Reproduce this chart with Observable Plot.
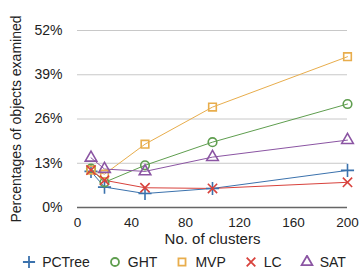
<!DOCTYPE html>
<html>
<head>
<meta charset="utf-8">
<script src="https://cdn.jsdelivr.net/npm/d3@7"></script>
<script src="https://cdn.jsdelivr.net/npm/@observablehq/plot@0.6"></script>
<style>
  body { margin: 0; background: #fff; font-family: "Liberation Sans", Arial, sans-serif; }
  #legend { display: flex; justify-content: center; height: 20px; align-items: center; font-size: 14px; color: #222; margin-left: 8px; }
  #legend .item { display: flex; align-items: center; margin: 0 9px; }
  #legend svg { margin-right: 6px; }
</style>
</head>
<body>
<div id="chart"></div>
<div id="legend"></div>
<script>
const clusters = [10, 20, 50, 100, 200];
const seriesNames = ["PCTree", "GHT", "MVP", "LC", "SAT"];
const pctree = [10.6, 6.0, 4.1, 5.6, 10.9];
const ght    = [11.4, 7.4, 12.4, 19.2, 30.4];
const mvp    = [11.0, 9.8, 18.6, 29.5, 44.3];
const lc     = [11.0, 8.0, 5.8, 5.6, 7.4];
const sat    = [14.6, 11.3, 10.6, 14.8, 19.8];
const yTicks = [0, 13, 26, 39, 52];
const xTicks = [0, 40, 80, 120, 160, 200];

const colors = ["#3b72ad", "#5f9e4f", "#e8ad4c", "#d8423c", "#8b55a3"];
const symbols = ["plus", "circle", "square", "times", "triangle"];
const values = [pctree, ght, mvp, lc, sat];

const data = [];
seriesNames.forEach((s, i) => clusters.forEach((c, j) => data.push({series: s, x: c, y: values[i][j]})));

const font = "Liberation Sans, Arial, sans-serif";
const plot = Plot.plot({
  width: 360,
  height: 252,
  marginLeft: 77,
  marginRight: 13,
  marginTop: 30,
  marginBottom: 45,
  style: {fontFamily: font, fontSize: "13px", color: "#222", background: "#fff"},
  x: {domain: [0, 200], ticks: xTicks, tickSize: 0, tickPadding: 10, label: null},
  y: {domain: [0, 52], ticks: yTicks, tickSize: 0, tickPadding: 15, tickFormat: d => d + "%", label: null},
  color: {domain: seriesNames, range: colors},
  symbol: {domain: seriesNames, range: symbols},
  marks: [
    Plot.gridY(yTicks.filter(d => d > 0), {stroke: "#c8c8c8", strokeOpacity: 1, strokeWidth: 1}),
    Plot.ruleY([0], {stroke: "#666", strokeWidth: 1.5}),
    Plot.axisX({ticks: xTicks, tickSize: 0, tickPadding: 10, fontSize: 13.5}),
    Plot.axisY({ticks: yTicks, tickSize: 0, tickPadding: 15, tickFormat: d => d + "%", fontSize: 14}),
    Plot.line(data, {x: "x", y: "y", z: "series", stroke: "series", strokeWidth: 1}),
    Plot.dot(data, {x: "x", y: "y", stroke: "series", symbol: "series", r: 4.3, strokeWidth: 1.6, fill: "none"}),
    Plot.text(["Percentages of objects examined"], {frameAnchor: "left", textAnchor: "middle", rotate: -90, dx: -61, fontSize: 14, fill: "#222"}),
    Plot.text(["No. of clusters"], {frameAnchor: "bottom", dy: 36, fontSize: 15, fill: "#222"})
  ]
});
document.getElementById("chart").appendChild(plot);

const symMap = {circle: d3.symbolCircle, plus: d3.symbolPlus, square: d3.symbolSquare, times: d3.symbolTimes, triangle: d3.symbolTriangle};
const legend = document.getElementById("legend");
seriesNames.forEach((s, i) => {
  const item = document.createElement("div");
  item.className = "item";
  const sym = d3.symbol(symMap[symbols[i]], 50)();
  item.innerHTML = `<svg width="14" height="14" viewBox="-7 -7 14 14"><path d="${sym}" fill="none" stroke="${colors[i]}" stroke-width="1.8"/></svg><span>${s}</span>`;
  legend.appendChild(item);
});
</script>
</body>
</html>
